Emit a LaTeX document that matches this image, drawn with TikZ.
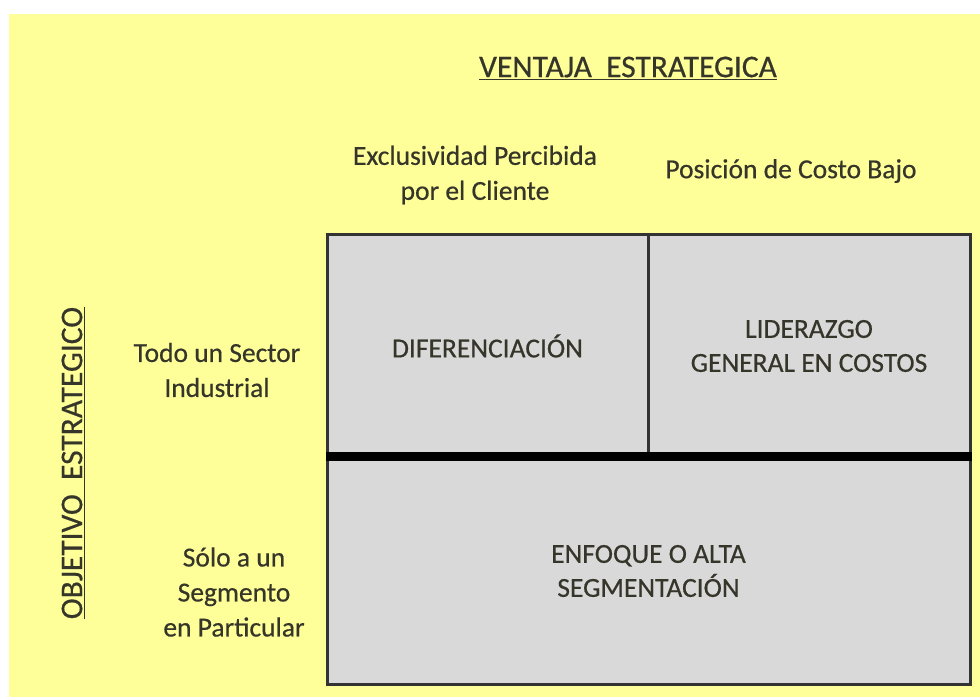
\documentclass[tikz,border=0pt]{standalone}
\usepackage{fontspec}
\setmainfont{Carlito}
\newfontfamily\heavy{Carlito}[FakeBold=0.5]
\definecolor{bgyellow}{HTML}{FFFF99}
\definecolor{cellgray}{HTML}{D9D9D9}
\definecolor{txt}{HTML}{35352A}
\definecolor{edge}{HTML}{333333}
\begin{document}
\begin{tikzpicture}[x=1pt,y=-1pt,
  lbl/.style={text=txt, align=center, inner sep=0, font=\heavy\fontsize{27.5}{35}\selectfont},
  head/.style={text=txt, align=center, inner sep=0, font=\heavy\fontsize{31.5}{36}\selectfont},
  cell/.style={draw=edge, line width=3, fill=cellgray, inner sep=0, text=txt, align=center, font=\heavy\fontsize{27.5}{34}\selectfont},
  divider/.style={line width=9, black}]
\useasboundingbox (0,0) rectangle (980,697);
\fill[white] (0,0) rectangle (980,697);
\fill[bgyellow] (9,14) rectangle (980,697);

\node[cell, minimum width=321, minimum height=224] (dif) at (487.5,346) {DIFERENCIACIÓN};
\node[cell, minimum width=322, minimum height=224] (lid) at (809,346) {LIDERAZGO\\GENERAL EN COSTOS};
\node[cell, minimum width=643, minimum height=226] (enf) at (648.5,571) {ENFOQUE O ALTA\\SEGMENTACIÓN};
\draw[divider] (enf.north west) -- (enf.north east);

\node[head] (ventaja) at (628,68) {\underline{VENTAJA\ \ ESTRATEGICA}};
\node[lbl] (excl) at (475,175) {Exclusividad Percibida\\por el Cliente};
\node[lbl] (pos) at (791,171) {Posición de Costo Bajo};
\node[lbl] (todo) at (217,370) {Todo un Sector\\Industrial};
\node[lbl] (solo) at (234,592) {Sólo a un\\Segmento\\en Particular};
\node[head, rotate=90] (objetivo) at (73,463) {\underline{OBJETIVO\ \ ESTRATEGICO}};
\end{tikzpicture}
\end{document}
